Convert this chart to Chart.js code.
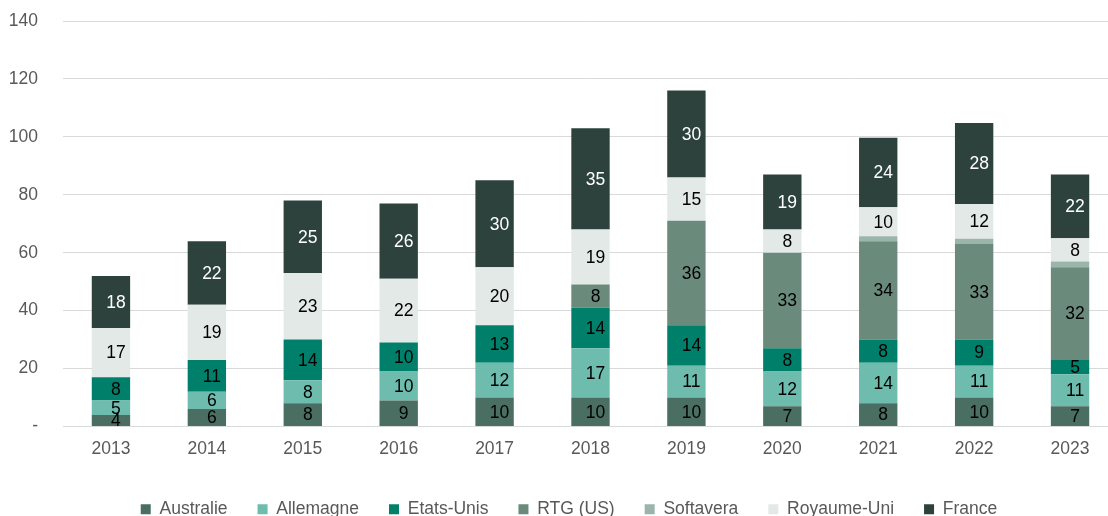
<!DOCTYPE html>
<html>
<head>
<meta charset="utf-8">
<script src="https://cdn.jsdelivr.net/npm/chart.js@4"></script>
<style>
    html, body { margin: 0; padding: 0; background: #fff; }
    #wrap { width: 1108px; height: 516px; overflow: hidden; }
</style>
</head>
<body>
<div id="wrap"><canvas id="chart" width="1125" height="516"></canvas></div>
<script>
const annees     = ['2013', '2014', '2015', '2016', '2017', '2018', '2019', '2020', '2021', '2022', '2023'];
const australie  = [4, 6, 8, 9, 10, 10, 10, 7, 8, 10, 7];
const allemagne  = [5, 6, 8, 10, 12, 17, 11, 12, 14, 11, 11];
const etatsUnis  = [8, 11, 14, 10, 13, 14, 14, 8, 8, 9, 5];
const rtgUs      = [0, 0, 0, 0, 0, 8, 36, 33, 34, 33, 32];
const softavera  = [0, 0, 0, 0, 0, 0, 0, 0, 1.7, 1.8, 2];
const royaumeUni = [17, 19, 23, 22, 20, 19, 15, 8, 10, 12, 8];
const france     = [18, 22, 25, 26, 30, 35, 30, 19, 24, 28, 22];
const yTicks     = [0, 20, 40, 60, 80, 100, 120, 140];

const police = '"Liberation Sans", Arial, sans-serif';

const series = [
    { label: 'Australie',   data: australie,  color: '#4a6e61', text: '#000', show: true },
    { label: 'Allemagne',   data: allemagne,  color: '#6dbcae', text: '#000', show: true },
    { label: 'Etats-Unis',  data: etatsUnis,  color: '#00806b', text: '#000', show: true },
    { label: 'RTG (US)',    data: rtgUs,      color: '#6a8a7c', text: '#000', show: true },
    { label: 'Softavera',   data: softavera,  color: '#9bb5aa', text: '#000', show: false },
    { label: 'Royaume-Uni', data: royaumeUni, color: '#e3e9e7', text: '#000', show: true },
    { label: 'France',      data: france,     color: '#2d423c', text: '#fff', show: true },
];

// étiquettes de valeurs au milieu de chaque segment
const etiquettes = {
    id: 'etiquettes',
    afterLayout(chart) {
        // légende un peu décalée vers la droite
        chart.legend.left += 10;
        chart.legend.right += 10;
    },
    afterDatasetsDraw(chart) {
        const ctx = chart.ctx;
        ctx.save();
        ctx.font = '17.5px ' + police;
        ctx.textAlign = 'center';
        ctx.textBaseline = 'middle';
        chart.data.datasets.forEach((ds, i) => {
            if (!series[i].show) return;
            ctx.fillStyle = series[i].text;
            chart.getDatasetMeta(i).data.forEach((bar, j) => {
                const v = ds.data[j];
                if (!v) return;
                const p = bar.getProps(['x', 'y', 'base'], true);
                ctx.fillText(String(v), p.x + 5, (p.y + p.base) / 2 + 1);
            });
        });
        ctx.restore();
    }
};

new Chart(document.getElementById('chart'), {
    type: 'bar',
    data: {
        labels: annees,
        datasets: series.map(s => ({
            label: s.label,
            data: s.data,
            backgroundColor: s.color,
            borderWidth: 0,
            categoryPercentage: 1,
            barPercentage: 0.4,
        }))
    },
    options: {
        responsive: false,
        animation: false,
        layout: { padding: { top: 21, right: 7, bottom: -12, left: 0 } },
        plugins: {
            legend: {
                position: 'bottom',
                labels: {
                    boxWidth: 10,
                    boxHeight: 10,
                    padding: 30,
                    color: '#595959',
                    font: { size: 17.5, family: police }
                }
            },
            tooltip: { enabled: false }
        },
        scales: {
            x: {
                stacked: true,
                grid: { display: false, drawTicks: false },
                border: { display: false },
                ticks: {
                    color: '#595959',
                    padding: 12,
                    font: { size: 17.5, family: police }
                },
                afterFit(scale) { scale.height = 44; }
            },
            y: {
                stacked: true,
                min: 0,
                max: 140,
                afterBuildTicks(scale) { scale.ticks = yTicks.map(v => ({ value: v })); },
                grid: { color: '#d9d9d9', lineWidth: 1, drawTicks: false },
                border: { display: false },
                ticks: {
                    color: '#595959',
                    padding: 25,
                    font: { size: 17.5, family: police },
                    callback: v => v === 0 ? '-' : v
                },
                afterFit(scale) {
                    scale.width = 63;
                    scale.paddingTop = 0;
                    scale.paddingBottom = 0;
                }
            }
        }
    },
    plugins: [etiquettes]
});
</script>
</body>
</html>
